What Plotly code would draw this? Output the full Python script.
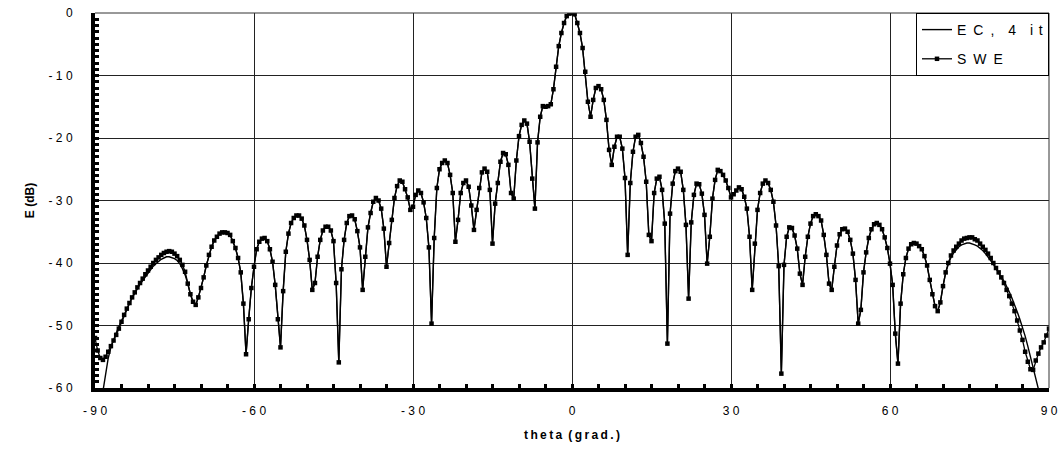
import plotly.graph_objects as go

# Sampling grid of the far-field cut: -90 .. 90 deg in 0.5 deg steps
theta = [k * 0.5 for k in range(-180, 181)]

# SWE result (dB), one value per theta sample
swe_db = [
    # -90 .. -80.5
    -52.0, -54.0, -55.2, -55.5, -55.0, -54.2, -53.3, -52.4, -51.5, -50.5,
    -49.4, -48.3, -47.3, -46.4, -45.5, -44.7, -43.9, -43.2, -42.5, -41.8,
    # -80 .. -70.5
    -41.2, -40.6, -40.0, -39.5, -39.1, -38.7, -38.4, -38.2, -38.1, -38.2,
    -38.5, -38.9, -39.5, -40.3, -41.4, -43.3, -45.0, -46.2, -46.7, -45.5,
    # -70 .. -60.5
    -44.0, -42.3, -40.4, -38.7, -37.4, -36.4, -35.8, -35.3, -35.1, -35.1,
    -35.2, -35.5, -36.5, -37.6, -39.2, -41.5, -46.5, -54.6, -49.0, -44.0,
    # -60 .. -50.5
    -40.6, -37.8, -36.6, -36.1, -36.0, -36.5, -37.8, -39.8, -43.5, -49.0,
    -53.5, -44.5, -38.2, -35.3, -33.6, -32.8, -32.4, -32.4, -32.9, -34.0,
    # -50 .. -40.5
    -36.3, -39.5, -44.3, -43.2, -39.0, -36.3, -34.8, -34.2, -34.2, -34.8,
    -36.5, -43.2, -55.9, -41.0, -36.3, -33.6, -32.5, -32.4, -33.0, -34.9,
    # -40 .. -30.5
    -37.5, -44.3, -39.0, -34.3, -32.0, -30.2, -29.6, -30.0, -31.3, -34.5,
    -40.6, -36.8, -33.1, -29.6, -27.7, -26.8, -27.0, -28.2, -29.5, -31.5,
    # -30 .. -20.5
    -31.0, -29.1, -28.4, -28.8, -30.3, -32.8, -37.5, -49.7, -36.0, -28.0,
    -25.0, -24.0, -23.6, -24.0, -25.9, -28.8, -36.6, -33.1, -28.8, -27.2,
    # -20 .. -10.5
    -26.8, -27.8, -30.8, -34.7, -31.5, -28.0, -25.5, -24.9, -25.4, -28.3,
    -36.9, -30.5, -27.2, -23.8, -22.4, -22.6, -24.3, -28.8, -29.7, -23.6,
    # -10 .. -0.5
    -19.7, -17.9, -17.2, -17.7, -20.6, -26.5, -31.3, -20.7, -16.6, -14.9,
    -15.0, -14.9, -14.6, -12.2, -8.6, -5.3, -3.2, -1.6, -0.5, -0.1,
    # 0 .. 9.5
    0.0, -0.2, -1.6, -3.2, -5.6, -9.4, -14.2, -16.6, -13.9, -12.0,
    -11.7, -12.2, -13.9, -17.1, -21.9, -24.3, -21.4, -19.8, -19.8, -21.7,
    # 10 .. 19.5
    -26.4, -38.7, -27.2, -22.2, -19.8, -19.5, -20.8, -23.0, -27.0, -35.5,
    -36.5, -28.8, -26.5, -26.2, -28.3, -33.7, -52.9, -32.1, -27.3, -25.3,
    # 20 .. 29.5
    -24.9, -25.4, -28.3, -33.9, -45.7, -33.5, -29.1, -27.3, -27.4, -28.9,
    -32.3, -40.1, -35.8, -29.7, -26.7, -25.1, -25.3, -25.9, -26.8, -28.0,
    # 30 .. 39.5
    -29.5, -29.0, -28.4, -27.9, -28.2, -29.4, -31.3, -35.8, -44.3, -36.9,
    -31.5, -28.8, -27.3, -26.8, -27.2, -28.3, -30.2, -34.0, -40.5, -57.7,
    # 40 .. 49.5
    -40.3, -35.8, -34.3, -34.4, -35.6, -37.7, -41.7, -43.5, -39.0, -35.8,
    -33.7, -32.5, -32.2, -32.5, -33.2, -35.5, -38.7, -43.3, -44.3, -40.6,
    # 50 .. 59.5
    -37.2, -35.4, -34.6, -34.5, -35.0, -36.3, -38.5, -42.7, -49.7, -47.5,
    -41.5, -38.3, -36.0, -34.6, -33.8, -33.6, -33.9, -34.6, -35.9, -37.6,
    # 60 .. 69.5
    -40.1, -43.5, -51.3, -56.1, -46.5, -41.8, -39.2, -37.7, -37.0, -36.8,
    -36.9, -37.3, -37.8, -38.9, -40.4, -42.7, -45.0, -46.9, -47.7, -46.3,
    # 70 .. 79.5
    -43.7, -41.5, -40.0, -38.8, -38.0, -37.4, -36.9, -36.4, -36.1, -36.0,
    -35.9, -35.9, -36.2, -36.4, -36.9, -37.4, -37.9, -38.5, -39.2, -40.0,
    # 80 .. 90
    -40.8, -41.5, -42.3, -43.2, -44.3, -45.3, -46.5, -47.7, -49.2, -50.8,
    -52.3, -54.2, -55.8, -57.0, -57.1, -55.6, -54.5, -53.5, -52.7, -51.6,
    -50.5,
]

# EC (4 iterations) result: it departs from SWE only near endfire
ec_db_left = [  # -90 .. -70
    -80.0, -72.0, -65.0, -60.5, -57.5, -55.2, -53.5, -52.2, -51.2, -50.2,
    -49.2, -48.2, -47.3, -46.4, -45.6, -44.8, -44.1, -43.4, -42.8, -42.2,
    -41.6, -41.0, -40.5, -40.1, -39.7, -39.4, -39.2, -39.0, -39.0, -39.1,
    -39.3, -39.6, -40.1, -40.9, -41.9, -43.3, -45.0, -46.2, -46.7, -45.5,
    -44.0,
]
ec_db_right = [  # 70 .. 90
    -43.7, -41.6, -40.2, -39.1, -38.4, -37.8, -37.4, -37.1, -36.9, -36.8,
    -36.8, -36.9, -37.1, -37.3, -37.6, -38.0, -38.5, -39.0, -39.6, -40.2,
    -40.8, -41.5, -42.2, -42.9, -43.7, -44.6, -45.6, -46.6, -47.8, -49.0,
    -50.3, -51.7, -53.3, -54.9, -56.5, -58.1, -59.7, -61.5, -63.6, -66.5,
    -70.0,
]
n_edge = len(ec_db_left)
ec_db = ec_db_left + swe_db[n_edge:len(swe_db) - n_edge] + ec_db_right

x_ticks = [-90, -60, -30, 0, 30, 60, 90]
y_ticks = [0, -10, -20, -30, -40, -50, -60]

TICK_SP = "\u2009\u200a"   # letter spacing of the tick labels
TS = "\u2009"              # letter spacing of the axis titles
LS = "\u2002"              # letter spacing of the legend
WG = "\u2002"              # word gap


def spaced(s, sep):
    return sep.join(list(s))


FONT = "Liberation Sans, Arial, sans-serif"

ec_name = spaced("EC,", LS) + WG + WG + "4" + WG + WG + spaced("it", TS + TS)
swe_name = spaced("SWE", LS)

fig = go.Figure()
fig.add_trace(go.Scatter(
    x=theta, y=ec_db, mode="lines", name=ec_name,
    line=dict(color="black", width=1.4), legendgroup="ec",
))
fig.add_trace(go.Scatter(
    x=theta, y=swe_db, mode="lines+markers", name=swe_name,
    line=dict(color="black", width=1.3),
    marker=dict(symbol="square", size=4.5, color="black"),
    legendgroup="swe",
))

# thin frame on the top and right edges of the plotting area
fig.add_shape(type="line", xref="paper", yref="paper", x0=0, x1=1, y0=1, y1=1,
              line=dict(color="#333", width=1))
fig.add_shape(type="line", xref="paper", yref="paper", x0=1, x1=1, y0=0, y1=1,
              line=dict(color="#333", width=1))

fig.update_layout(
    width=1060, height=456,
    margin=dict(l=95, r=11, t=13, b=68, autoexpand=False),
    paper_bgcolor="white", plot_bgcolor="white",
    font=dict(family=FONT, size=12, color="black"),
    showlegend=True,
    legend=dict(
        x=1, xanchor="right", y=1, yanchor="top",
        bgcolor="white", bordercolor="black", borderwidth=1,
        font=dict(size=14, family=FONT), itemwidth=30,
        traceorder="grouped", tracegroupgap=8,
    ),
)

fig.update_xaxes(
    range=[-90, 90], tickvals=x_ticks,
    ticktext=[spaced(str(v), TICK_SP) for v in x_ticks],
    showgrid=True, gridcolor="#222", gridwidth=1,
    showline=True, linecolor="black", linewidth=4,
    ticks="inside", ticklen=4, tickwidth=3, tickcolor="black",
    minor=dict(dtick=5, ticks="inside", ticklen=4, tickwidth=3,
               tickcolor="black", showgrid=False),
    ticklabelstandoff=9,
    zeroline=False, automargin=False,
    title=dict(text="<b>" + spaced("theta", TS) + WG + spaced("(grad.)", TS) + "</b>",
               standoff=14, font=dict(size=12)),
)
fig.update_yaxes(
    range=[-60, 0], tickvals=y_ticks,
    ticktext=[spaced(str(v), TICK_SP) for v in y_ticks],
    showgrid=True, gridcolor="#222", gridwidth=1,
    showline=True, linecolor="black", linewidth=4,
    ticks="inside", ticklen=4, tickwidth=3, tickcolor="black",
    minor=dict(dtick=1, ticks="inside", ticklen=4, tickwidth=3,
               tickcolor="black", showgrid=False),
    ticklabelstandoff=16,
    zeroline=False, automargin=False,
    title=dict(text="<b>E (dB)</b>", standoff=12, font=dict(size=12)),
)

fig.write_html("out.html")
